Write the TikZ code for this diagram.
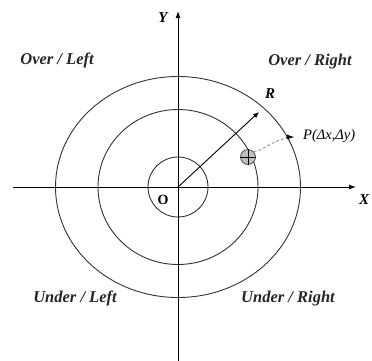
\documentclass[tikz,border=0pt]{standalone}
\usepackage{fontspec}
\setmainfont{Liberation Serif}
\usetikzlibrary{arrows.meta}
\begin{document}
\begin{tikzpicture}[x=1pt,y=-1pt,
  quad/.style={font=\fontsize{16.5}{18}\selectfont\bfseries\itshape, text=black!85},
  axlab/.style={font=\fontsize{15}{17}\selectfont\bfseries\itshape},
  ring/.style={draw=black!80, line width=0.9pt},
  axis/.style={line width=0.9pt, -{Latex[length=7pt,width=5pt]}}]
\useasboundingbox (0,0) rectangle (372,360);
\coordinate (o) at (178,187);
\coordinate (xl) at (13,187);
\coordinate (xr) at (356,187);
\coordinate (yb) at (178,362);
\coordinate (yt) at (178,11);
\coordinate (r) at (259,112);
% rings
\draw[ring] (o) ellipse [x radius=122.5, y radius=110.5];
\draw[ring] (o) ellipse [x radius=80, y radius=77.5];
\draw[ring] (o) ellipse [x radius=30, y radius=30];
% axes
\draw[axis] (xl) -- (xr);
\draw[axis] (yb) -- (yt);
% radius
\draw[line width=0.9pt, -{Latex[length=6pt,width=5pt]}] (o) -- (r);
\node[axlab] (rl) at (270,94) {R};
% crosshair
\node[circle, draw=black!80, fill=black!25, minimum size=15pt, inner sep=0pt, line width=0.6pt] (cr) at (248,157) {};
\draw[line width=0.6pt] (cr.north) -- (cr.south) (cr.west) -- (cr.east);
% P point
\node[anchor=west, inner sep=0pt, font=\fontsize{14.5}{16}\selectfont\itshape] (p) at (303,136) {P(Δx,Δy)};
\coordinate (pp) at (294,137);
\draw[black!45, densely dashed, line width=0.8pt] (cr.north east) .. controls (262,152) and (272,139) .. (pp);
\draw[-{Latex[length=7pt,width=5pt]}, line width=0.8pt] (286,137) -- (pp);
% labels
\node[axlab] (ylab) at (163,18) {Y};
\node[axlab] (xlab) at (364,200) {X};
\node[font=\fontsize{14}{16}\selectfont\bfseries] (olab) at (163,200) {O};
\node[quad] (ol) at (57,60) {Over / Left};
\node[quad] (or) at (310,62) {Over / Right};
\node[quad] (ul) at (75,298) {Under / Left};
\node[quad] (ur) at (288,299) {Under / Right};
\end{tikzpicture}
\end{document}
